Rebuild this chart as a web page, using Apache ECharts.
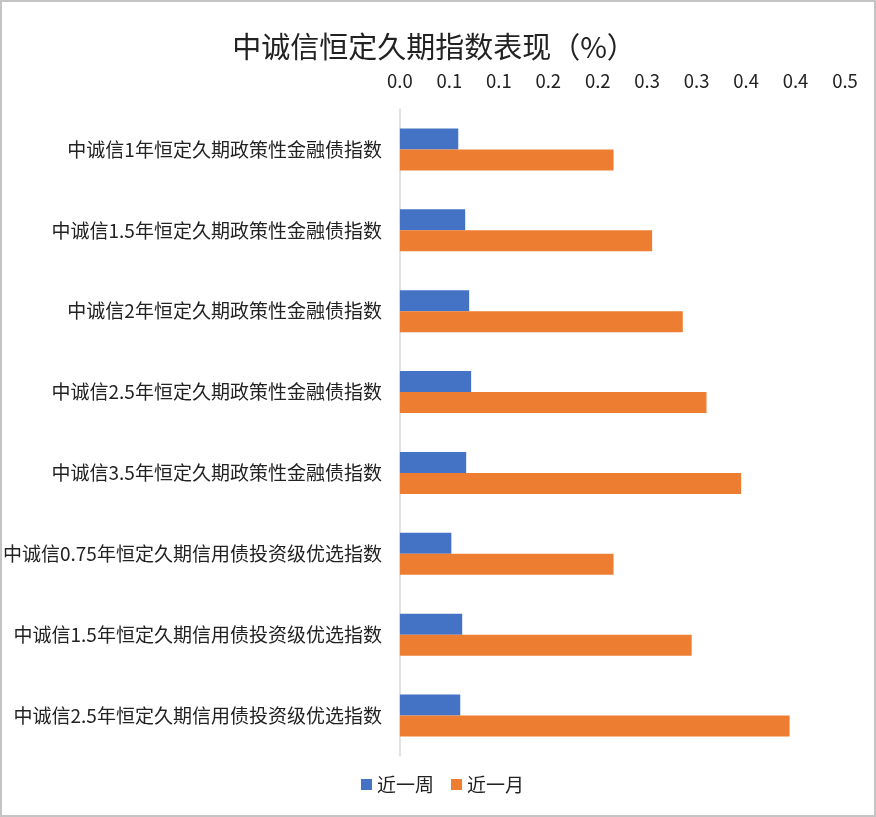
<!DOCTYPE html>
<html lang="zh-CN">
<head>
    <meta charset="UTF-8">
    <title>中诚信恒定久期指数表现</title>
    <style>
        html, body { margin: 0; padding: 0; background: #fff; }
        #chartBox { width: 876px; height: 817px; }
        #frame { position: absolute; left: 0; top: 0; width: 876px; height: 817px;
                 box-sizing: border-box; border: 2px solid #c4c4c4; pointer-events: none; }
    </style>
</head>
<body>
<div id="chartBox"></div>
<div id="frame"></div>
<script type="text/javascript" src="https://cdn.jsdelivr.net/npm/echarts@6/dist/echarts.min.js"></script>
<script type="text/javascript">
    // 数据
    var categories = [
        '中诚信1年恒定久期政策性金融债指数',
        '中诚信1.5年恒定久期政策性金融债指数',
        '中诚信2年恒定久期政策性金融债指数',
        '中诚信2.5年恒定久期政策性金融债指数',
        '中诚信3.5年恒定久期政策性金融债指数',
        '中诚信0.75年恒定久期信用债投资级优选指数',
        '中诚信1.5年恒定久期信用债投资级优选指数',
        '中诚信2.5年恒定久期信用债投资级优选指数'
    ];
    var weekValues = [0.059, 0.066, 0.070, 0.072, 0.067, 0.052, 0.063, 0.061];
    var monthValues = [0.216, 0.255, 0.286, 0.310, 0.345, 0.216, 0.295, 0.394];
    var seriesNames = ['近一周', '近一月'];

    var font = '"Noto Sans CJK SC", "Noto Sans", sans-serif';
    var myChart = echarts.init(document.getElementById('chartBox'));

    myChart.setOption({
        animation: false,
        title: {
            text: '中诚信恒定久期指数表现（%）',
            left: 429,
            textAlign: 'center',
            top: 27,
            textStyle: { fontFamily: font, fontSize: 29, fontWeight: 'normal', color: '#222' }
        },
        legend: {
            data: seriesNames,
            top: 775,
            left: 361,
            padding: 0,
            itemWidth: 11,
            itemHeight: 11,
            itemGap: 17,
            icon: 'rect',
            textStyle: { fontFamily: font, fontSize: 19, color: '#222' }
        },
        grid: { left: 397, right: 31, top: 109, bottom: 61 },
        xAxis: {
            type: 'value',
            position: 'top',
            min: 0,
            max: 0.45,
            interval: 0.05,
            axisLine: { show: false },
            axisTick: { show: false },
            splitLine: { show: false },
            axisLabel: {
                margin: 19,
                fontFamily: font,
                fontSize: 18.5,
                color: '#222',
                formatter: function (v) {
                    return (Math.round(v * 10 + 1e-9) / 10).toFixed(1);
                }
            }
        },
        yAxis: {
            type: 'category',
            inverse: true,
            data: categories,
            axisLine: { show: true, lineStyle: { color: '#d9d9d9', width: 1.5 } },
            axisTick: { show: false },
            axisLabel: { margin: 18, fontFamily: font, fontSize: 19, color: '#222' }
        },
        series: [{
            name: seriesNames[0],
            type: 'bar',
            data: weekValues,
            barWidth: 21,
            barGap: '0%',
            itemStyle: { color: '#4472C4' }
        }, {
            name: seriesNames[1],
            type: 'bar',
            data: monthValues,
            barWidth: 21,
            barGap: '0%',
            itemStyle: { color: '#ED7D31' }
        }]
    });
</script>
</body>
</html>
